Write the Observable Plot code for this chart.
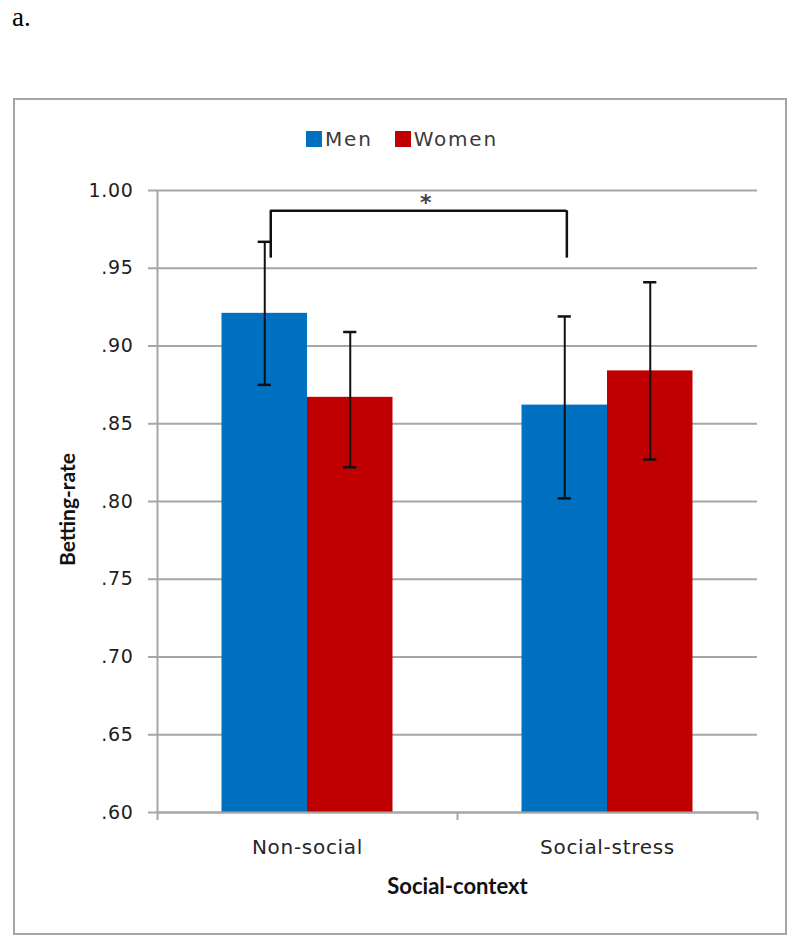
<!DOCTYPE html>
<html>
<head>
<meta charset="utf-8">
<script src="https://cdn.jsdelivr.net/npm/d3@7"></script>
<script src="https://cdn.jsdelivr.net/npm/@observablehq/plot@0.6"></script>
<style>
  html, body { margin: 0; padding: 0; background: #fff; }
  #wrap { position: relative; width: 800px; height: 947px; overflow: hidden; }
  #chart { position: absolute; left: 0; top: 0; }
  #panel { position: absolute; left: 13px; top: 98px; width: 770px; height: 833px; border: 2px solid #a6a6a6; pointer-events: none; }
  #tag { position: absolute; left: 12px; top: 4px; font-family: "Liberation Serif", serif; font-size: 27px; line-height: 27px; color: #000; }
  #legend { position: absolute; left: 306px; top: 127px; height: 24px; display: flex; align-items: center; font-family: "DejaVu Sans", sans-serif; font-size: 20px; color: #3a3a3a; letter-spacing: 1.8px; }
  #legend .sw { width: 16px; height: 16px; display: inline-block; margin-right: 3px; }
  #legend .item { display: flex; align-items: center; margin-right: 22px; }
  g[aria-label="y-axis tick label"] text, g[aria-label="x-axis tick label"] text { letter-spacing: 0.7px; }
</style>
</head>
<body>
<div id="wrap">
  <div id="tag">a.</div>
  <div id="chart"></div>
  <div id="legend"></div>
  <div id="panel"></div>
</div>
<script>
// ---- data ----
const contexts = ["Non-social", "Social-stress"];
const groups = ["Men", "Women"];
const groupColors = ["#0070C0", "#C00000"];
const menMean = [0.921, 0.862];
const womenMean = [0.867, 0.884];
const menLow = [0.875, 0.802];
const menHigh = [0.967, 0.919];
const womenLow = [0.822, 0.827];
const womenHigh = [0.909, 0.941];
const yTicks = [0.60, 0.65, 0.70, 0.75, 0.80, 0.85, 0.90, 0.95, 1.00];
const yLabels = [".60", ".65", ".70", ".75", ".80", ".85", ".90", ".95", "1.00"];
const yTitle = "Betting-rate";
const xTitle = "Social-context";
const sigMark = "*";

// ---- table ----
const means = {Men: menMean, Women: womenMean};
const lows = {Men: menLow, Women: womenLow};
const highs = {Men: menHigh, Women: womenHigh};
const barW = 0.285;
const rows = contexts.flatMap((c, i) => groups.map((g, j) => ({
  context: c, group: g, ci: i, gj: j,
  mean: means[g][i], lo: lows[g][i], hi: highs[g][i]
})));
const x1Of = d => d.ci + 0.5 + (d.gj - 1) * barW;
const x2Of = d => x1Of(d) + barW;
const cOf = d => x1Of(d) + barW / 2;
const capHalf = 0.022;

// significance bracket between Men bars
const menRows = rows.filter(d => d.group === "Men");
const bracketX = [cOf(menRows[0]) + 0.02, cOf(menRows[1]) + 0.007];
const bracketTop = 0.987, bracketBottom = 0.9565;

const fmt = d => yLabels[yTicks.findIndex(t => Math.abs(t - d) < 1e-9)];

const plot = Plot.plot({
  width: 800,
  height: 947,
  marginTop: 190,
  marginBottom: 135,
  marginLeft: 157,
  marginRight: 43,
  x: {domain: [0, contexts.length], axis: null},
  y: {domain: [yTicks[0], yTicks[yTicks.length - 1]], axis: null},
  style: {background: "transparent", fontFamily: "DejaVu Sans, sans-serif", overflow: "visible"},
  marks: [
    Plot.ruleY(yTicks, {stroke: "#a6a6a6", strokeWidth: 2}),
    Plot.ruleX([0], {stroke: "#a6a6a6", strokeWidth: 2}),
    Plot.axisY({ticks: yTicks, tickFormat: fmt, tickSize: 9, tickPadding: 15, fontSize: 19, stroke: "#a6a6a6", strokeWidth: 2, fill: "#1e1e1e", label: null}),
    Plot.axisX({ticks: d3.range(contexts.length + 1), tickSize: 8, tickFormat: () => "", stroke: "#a6a6a6", strokeWidth: 2, label: null}),
    Plot.axisX({ticks: contexts.map((c, i) => i + 0.5), tickSize: 0, tickPadding: 27, tickFormat: d => contexts[Math.floor(d)], fontSize: 20, fill: "#262626", label: null}),
    Plot.rect(rows, {x1: x1Of, x2: x2Of, y1: yTicks[0], y2: "mean", fill: d => groupColors[d.gj]}),
    Plot.ruleY([yTicks[0]], {stroke: "#a6a6a6", strokeWidth: 2}),
    Plot.ruleX(rows, {x: cOf, y1: "lo", y2: "hi", stroke: "#111", strokeWidth: 2}),
    Plot.ruleY(rows, {y: "hi", x1: d => cOf(d) - capHalf, x2: d => cOf(d) + capHalf, stroke: "#111", strokeWidth: 2.5}),
    Plot.ruleY(rows, {y: "lo", x1: d => cOf(d) - capHalf, x2: d => cOf(d) + capHalf, stroke: "#111", strokeWidth: 2.5}),
    Plot.ruleY([bracketTop], {x1: bracketX[0], x2: bracketX[1], stroke: "#111", strokeWidth: 2.5}),
    Plot.ruleX(bracketX, {y1: bracketBottom, y2: bracketTop, stroke: "#111", strokeWidth: 2.5}),
    Plot.text([sigMark], {x: (bracketX[0] + bracketX[1]) / 2, y: bracketTop, dx: 7, dy: -8, fontSize: 22, fontWeight: "bold", fill: "#444"}),
    Plot.text([yTitle], {frameAnchor: "left", textAnchor: "middle", lineAnchor: "middle", dx: -89, dy: 8, rotate: -90, fontSize: 21, fontWeight: "bold", fontFamily: "Lato, sans-serif", fill: "#111"}),
    Plot.text([xTitle], {frameAnchor: "bottom", textAnchor: "middle", lineAnchor: "middle", dy: 74, fontSize: 22, fontWeight: "bold", fontFamily: "Lato, sans-serif", fill: "#111"})
  ]
});
document.getElementById("chart").appendChild(plot);

// legend
const legend = document.getElementById("legend");
groups.forEach((g, j) => {
  const item = document.createElement("span");
  item.className = "item";
  const sw = document.createElement("span");
  sw.className = "sw";
  sw.style.background = groupColors[j];
  item.appendChild(sw);
  item.appendChild(document.createTextNode(g));
  legend.appendChild(item);
});
</script>
</body>
</html>
